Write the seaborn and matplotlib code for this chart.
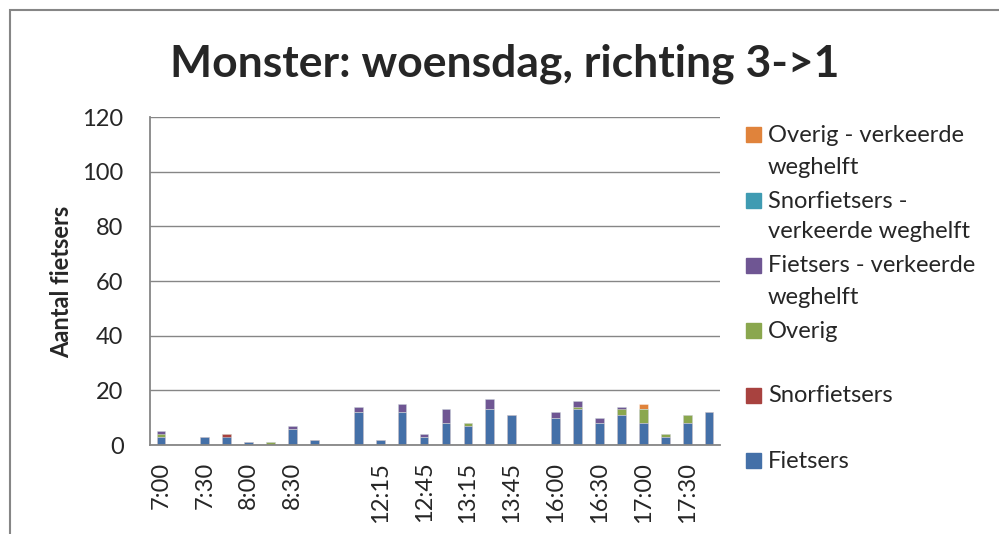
import textwrap
import numpy as np
import pandas as pd
import matplotlib
matplotlib.use("Agg")
import matplotlib.pyplot as plt
from matplotlib.patches import Rectangle
import seaborn as sns

# kwartieren (lege categorie = onderbreking in de telling)
tijden = ["7:00", "7:15", "7:30", "7:45", "8:00", "8:15", "8:30", "8:45", "",
          "12:00", "12:15", "12:30", "12:45", "13:00", "13:15", "13:30", "13:45", "",
          "16:00", "16:15", "16:30", "16:45", "17:00", "17:15", "17:30", "17:45"]

fietsers = [3, 0, 3, 3, 1, 0, 6, 2, 0,
            12, 2, 12, 3, 8, 7, 13, 11, 0,
            10, 13, 8, 11, 8, 3, 8, 12]
snorfietsers = [0, 0, 0, 1, 0, 0, 0, 0, 0,
                0, 0, 0, 0, 0, 0, 0, 0, 0,
                0, 0, 0, 0, 0, 0, 0, 0]
overig = [1, 0, 0, 0, 0, 1, 0, 0, 0,
          0, 0, 0, 0, 0, 1, 0, 0, 0,
          0, 1, 0, 2, 5, 1, 3, 0]
fietsers_vw = [1, 0, 0, 0, 0, 0, 1, 0, 0,
               2, 0, 3, 1, 5, 0, 4, 0, 0,
               2, 2, 2, 1, 0, 0, 0, 0]
snorfietsers_vw = [0, 0, 0, 0, 0, 0, 0, 0, 0,
                   0, 0, 0, 0, 0, 0, 0, 0, 0,
                   0, 0, 0, 0, 0, 0, 0, 0]
overig_vw = [0, 0, 0, 0, 0, 0, 0, 0, 0,
             0, 0, 0, 0, 0, 0, 0, 0, 0,
             0, 0, 0, 0, 2, 0, 0, 0]

reeksen = ["Fietsers", "Snorfietsers", "Overig",
           "Fietsers - verkeerde weghelft", "Snorfietsers - verkeerde weghelft",
           "Overig - verkeerde weghelft"]
kleuren = ["#4470A8", "#A8423F", "#8AA74E", "#6F5693", "#3F9BB2", "#E0833B"]

df = pd.DataFrame({"pos": range(len(tijden)),
                   "Fietsers": fietsers,
                   "Snorfietsers": snorfietsers,
                   "Overig": overig,
                   "Fietsers - verkeerde weghelft": fietsers_vw,
                   "Snorfietsers - verkeerde weghelft": snorfietsers_vw,
                   "Overig - verkeerde weghelft": overig_vw})
cum = df[reeksen].cumsum(axis=1)
cum["pos"] = df["pos"]

sns.set_style("white")
plt.rcParams["font.family"] = ["Lato", "DejaVu Sans"]

fig = plt.figure(figsize=(9.99, 5.34), dpi=100)
ax = fig.add_axes([150 / 999, 1 - 445 / 534, 570 / 999, 328 / 534])

# gestapeld: hoogste cumulatieve laag eerst tekenen
for naam, kleur in reversed(list(zip(reeksen, kleuren))):
    sns.barplot(data=cum, x="pos", y=naam, color=kleur, saturation=1,
                width=0.4, errorbar=None, ax=ax,
                edgecolor=(1, 1, 1, 0.45), linewidth=0.6)

ax.set_xlim(-0.5, len(tijden) - 0.5)
ax.set_ylim(0, 120)
ax.set_yticks(range(0, 121, 20))
ax.yaxis.grid(True, color="#868686", linewidth=1)
ax.set_axisbelow(True)
ax.set_xlabel("")
ax.set_ylabel("")

ax.set_xticks(range(len(tijden)))
ax.set_xticklabels([t if i % 2 == 0 else "" for i, t in enumerate(tijden)],
                   rotation=90, fontsize=17)
ax.set_xticks(np.arange(-0.5, len(tijden), 1), minor=True)
ax.tick_params(axis="x", which="major", length=0, pad=12)
ax.tick_params(axis="x", which="minor", length=6, width=1.2, color="#868686",
               direction="out")
ax.tick_params(axis="y", length=7, width=1.2, color="#868686", pad=12,
               labelsize=17)

for s in ["top", "right"]:
    ax.spines[s].set_visible(False)
for s in ["left", "bottom"]:
    ax.spines[s].set_color("#868686")
    ax.spines[s].set_linewidth(1.3)

fig.text(505 / 999, 1 - 76 / 534, "Monster: woensdag, richting 3->1",
         ha="center", va="baseline", fontsize=32, fontweight="bold")
fig.text(62 / 999, 1 - 282 / 534, "Aantal fietsers", rotation=90,
         ha="center", va="center", fontsize=17, fontweight="bold")

# legenda, omgekeerde volgorde zoals Excel
for i, (naam, kleur) in enumerate(zip(reversed(reeksen), reversed(kleuren))):
    yc = 135 + 65 * i
    fig.patches.append(Rectangle((746 / 999, 1 - (yc + 7.5) / 534), 15 / 999, 15 / 534,
                                 transform=fig.transFigure, color=kleur))
    for k, regel in enumerate(textwrap.fill(naam, 20).split("\n")):
        fig.text(768 / 999, 1 - (yc + 7.5 + 31 * k) / 534, regel,
                 ha="left", va="baseline", fontsize=17)

fig.patches.append(Rectangle((9.5 / 999, -0.05), 1.2, 1.05 - 9.5 / 534,
                             transform=fig.transFigure, fill=False,
                             edgecolor="#868686", linewidth=1.5))

fig.savefig("out.png", dpi=100)
